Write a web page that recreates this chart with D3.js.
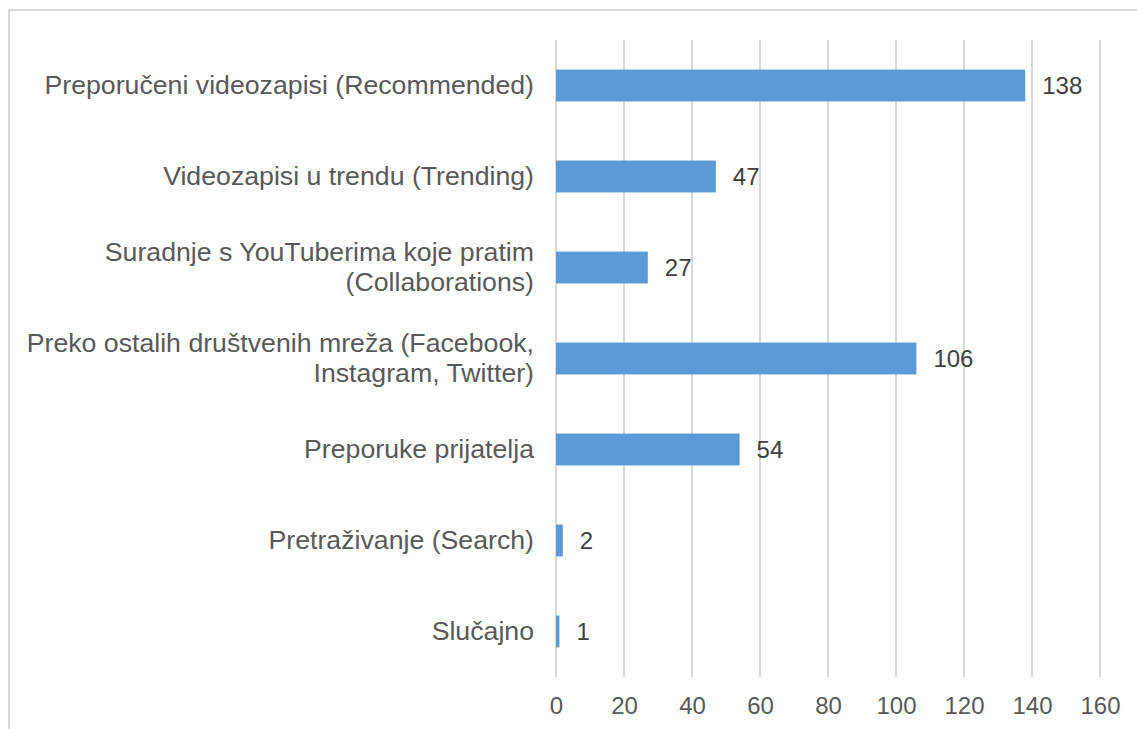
<!DOCTYPE html>
<html>
<head>
<meta charset="utf-8">
<script src="https://cdn.jsdelivr.net/npm/d3@7"></script>
<style>
  body { margin: 0; background: #fff; }
  text { font-family: "Liberation Sans", Arial, sans-serif; }
</style>
</head>
<body>
<svg id="chart" width="1137" height="729"></svg>
<script>
// categories, top to bottom (each entry is a list of lines)
var categories = [
  ["Preporučeni videozapisi (Recommended)"],
  ["Videozapisi u trendu (Trending)"],
  ["Suradnje s YouTuberima koje pratim", "(Collaborations)"],
  ["Preko ostalih društvenih mreža (Facebook,", "Instagram, Twitter)"],
  ["Preporuke prijatelja"],
  ["Pretraživanje (Search)"],
  ["Slučajno"]
];
var values = [138, 47, 27, 106, 54, 2, 1];
var xTicks = [0, 20, 40, 60, 80, 100, 120, 140, 160];

var svg = d3.select("#chart");

// outer frame
svg.append("rect")
  .attr("x", 9).attr("y", 10)
  .attr("width", 1140).attr("height", 740)
  .attr("fill", "none")
  .attr("stroke", "#d9d9d9")
  .attr("stroke-width", 2);

var x = d3.scaleLinear().domain([0, 160]).range([556, 1100]);

var y = d3.scaleBand()
  .domain(d3.range(categories.length))
  .range([40, 677])
  .paddingInner(0.65)
  .paddingOuter(0.325);

// gridlines
svg.append("g").selectAll("line")
  .data(xTicks)
  .enter().append("line")
  .attr("x1", d => x(d)).attr("x2", d => x(d))
  .attr("y1", 40).attr("y2", 677)
  .attr("stroke", "#d9d9d9")
  .attr("stroke-width", 2);

// x axis labels
var xAxis = d3.axisBottom(x).tickValues(xTicks).tickSize(0).tickPadding(0);
var gx = svg.append("g")
  .attr("transform", "translate(0,697)")
  .call(xAxis);
gx.select(".domain").remove();
gx.selectAll("text")
  .attr("dy", "0.71em")
  .attr("fill", "#595959")
  .style("font-size", "24px")
  .style("font-family", "'Liberation Sans', Arial, sans-serif");

// bars
svg.append("g").selectAll("rect")
  .data(values)
  .enter().append("rect")
  .attr("x", x(0))
  .attr("y", (d, i) => y(i))
  .attr("width", d => x(d) - x(0))
  .attr("height", y.bandwidth())
  .attr("fill", "#5b9bd5");

// value labels
svg.append("g").selectAll("text")
  .data(values)
  .enter().append("text")
  .attr("x", d => x(d) + 17)
  .attr("y", (d, i) => y(i) + y.bandwidth() / 2)
  .attr("dy", "0.35em")
  .attr("fill", "#404040")
  .style("font-size", "24px")
  .text(d => d);

// category labels
var lineH = 30;
var labels = svg.append("g").selectAll("text")
  .data(categories)
  .enter().append("text")
  .attr("text-anchor", "end")
  .attr("fill", "#595959")
  .style("font-size", "26.7px")
  .attr("y", (d, i) => y(i) + y.bandwidth() / 2 - (d.length - 1) * lineH / 2);

labels.selectAll("tspan")
  .data(d => d)
  .enter().append("tspan")
  .attr("x", 534)
  .attr("dy", (d, j) => j === 0 ? "0.33em" : lineH + "px")
  .text(d => d);
</script>
</body>
</html>
